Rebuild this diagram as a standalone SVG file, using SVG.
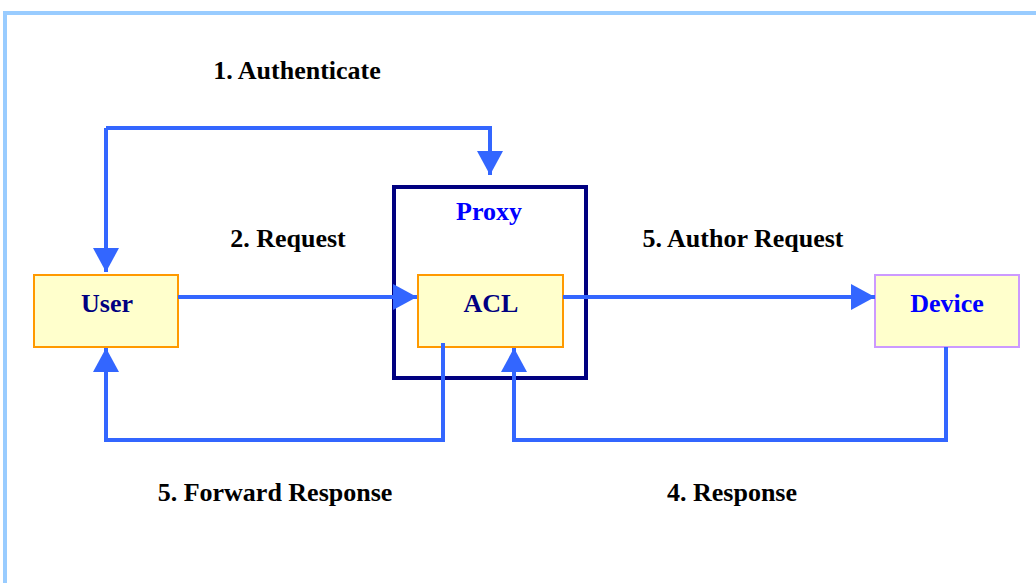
<svg xmlns="http://www.w3.org/2000/svg" width="1036" height="583" viewBox="0 0 1036 583">
  <style>
    .frame { fill: none; stroke: #99CCFF; stroke-width: 4; }
    .box { fill: #FFFFCC; stroke: #FF9900; stroke-width: 2; }
    .dev { fill: #FFFFCC; stroke: #CC99FF; stroke-width: 2; }
    .proxy { fill: #FFFFFF; stroke: #000080; stroke-width: 4; }
    .wire { fill: none; stroke: #3366FF; stroke-width: 4; stroke-linejoin: miter; }
    .lbl { font-family: "Liberation Serif", "Times New Roman", serif; font-weight: bold; font-size: 26px; fill: #000000; text-anchor: middle; }
    .name { font-family: "Liberation Serif", "Times New Roman", serif; font-weight: bold; font-size: 26px; text-anchor: middle; }
  </style>
  <defs>
    <marker id="head" markerUnits="userSpaceOnUse" markerWidth="26" markerHeight="26" viewBox="0 0 24 26" refX="24" refY="13" orient="auto">
      <path d="M0,0 L24,13 L0,26 Z" fill="#3366FF"/>
    </marker>
  </defs>

  <rect width="1036" height="583" fill="#FFFFFF"/>
  <path class="frame" d="M5,583 L5,13 L1036,13"/>

  <g id="proxy">
    <rect class="proxy" x="394" y="187" width="192" height="191"/>
    <text class="name" x="489" y="220" fill="#0000FF">Proxy</text>
  </g>

  <g id="user">
    <rect class="box" x="34" y="275" width="144" height="72"/>
    <text class="name" x="107" y="312" fill="#000080">User</text>
  </g>

  <g id="acl">
    <rect class="box" x="418" y="275" width="145" height="72"/>
    <text class="name" x="491" y="312" fill="#000080">ACL</text>
  </g>

  <g id="device">
    <rect class="dev" x="875" y="275" width="144" height="72"/>
    <text class="name" x="947" y="312" fill="#0000FF">Device</text>
  </g>

  <g id="connectors">
    <!-- authenticate: user <-> proxy -->
    <path class="wire" d="M106,128 L490,128 L490,175" marker-end="url(#head)"/>
    <path class="wire" d="M106,128 L106,272" marker-end="url(#head)"/>
    <!-- request -->
    <path class="wire" d="M178,297 L417,297" marker-end="url(#head)"/>
    <!-- author request -->
    <path class="wire" d="M563,297 L875,297" marker-end="url(#head)"/>
    <!-- response -->
    <path class="wire" d="M946,347 L946,440 L514,440 L514,348" marker-end="url(#head)"/>
    <!-- forward response -->
    <path class="wire" d="M443,343 L443,440 L106,440 L106,348" marker-end="url(#head)"/>
  </g>

  <g id="labels">
    <text class="lbl" x="297" y="79">1. Authenticate</text>
    <text class="lbl" x="288" y="247">2. Request</text>
    <text class="lbl" x="743" y="247">5. Author Request</text>
    <text class="lbl" x="275" y="501">5. Forward Response</text>
    <text class="lbl" x="732" y="501">4. Response</text>
  </g>
</svg>
